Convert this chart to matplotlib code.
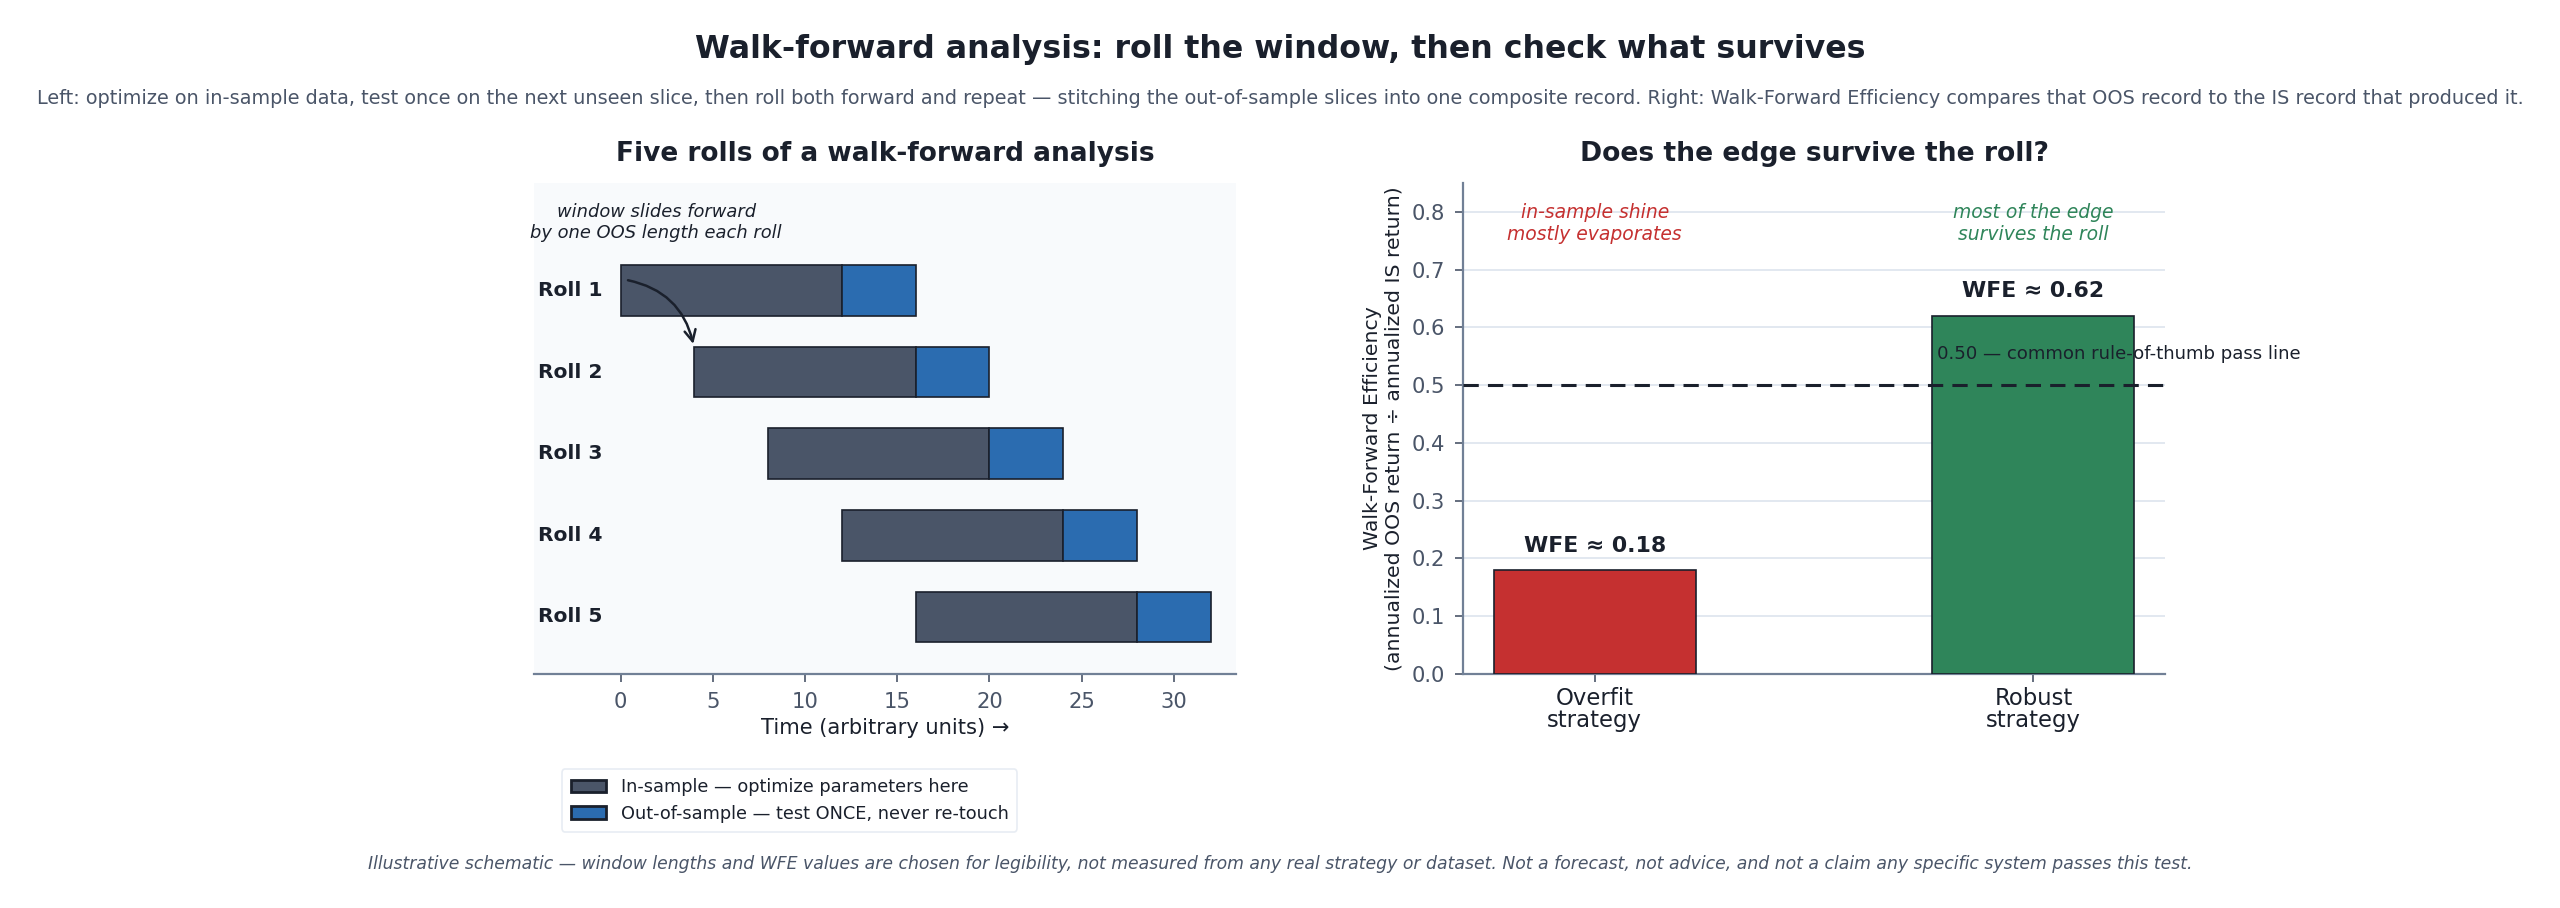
import matplotlib.pyplot as plt
from matplotlib.patches import Patch

# data
rolls = ["Roll 1", "Roll 2", "Roll 3", "Roll 4", "Roll 5"]
is_start = [0, 4, 8, 12, 16]
is_len = [12, 12, 12, 12, 12]
oos_len = [4, 4, 4, 4, 4]

strategies = ["Overfit\nstrategy", "Robust\nstrategy"]
wfe = [0.18, 0.62]
pass_line = 0.50

IS_COLOR = "#4a5568"
OOS_COLOR = "#2b6cb0"
EDGE = "#1a202c"
DARK = "#1a202c"
SLATE = "#4a5568"
RED = "#c53030"
GREEN = "#2f855a"

plt.rcParams["font.family"] = ["DejaVu Sans"]

fig = plt.figure(figsize=(12.8, 4.54), dpi=200)
ax1 = fig.add_axes([0.2086, 0.2577, 0.2744, 0.5408])
ax2 = fig.add_axes([0.5715, 0.2577, 0.2742, 0.5408])

fig.text(0.5, 0.946, "Walk-forward analysis: roll the window, then check what survives",
         ha="center", va="center", fontsize=11.4, fontweight="bold", color=DARK)
fig.text(0.5, 0.892,
         "Left: optimize on in-sample data, test once on the next unseen slice, then roll both forward and repeat \u2014 "
         "stitching the out-of-sample slices into one composite record. Right: Walk-Forward Efficiency compares that "
         "OOS record to the IS record that produced it.",
         ha="center", va="center", fontsize=6.93, color=SLATE)
fig.text(0.5, 0.0485,
         "Illustrative schematic \u2014 window lengths and WFE values are chosen for legibility, not measured from any "
         "real strategy or dataset. Not a forecast, not advice, and not a claim any specific system passes this test.",
         ha="center", va="center", fontsize=6.2, color=SLATE, style="italic")

# left panel: rolling windows
ypos = list(range(len(rolls)))
ax1.set_facecolor("#f8fafc")
ax1.barh(ypos, is_len, left=is_start, height=0.62, color=IS_COLOR,
         edgecolor=EDGE, linewidth=0.6, zorder=2)
oos_start = [s + l for s, l in zip(is_start, is_len)]
ax1.barh(ypos, oos_len, left=oos_start, height=0.62, color=OOS_COLOR,
         edgecolor=EDGE, linewidth=0.6, zorder=2)
for y, name in zip(ypos, rolls):
    ax1.text(-4.5, y, name, ha="left", va="center", fontsize=7.3,
             fontweight="bold", color=DARK)

ax1.set_xlim(-4.7, 33.4)
ax1.set_ylim(4.7, -1.32)
ax1.set_yticks([])
ax1.set_xticks([0, 5, 10, 15, 20, 25, 30])
ax1.tick_params(axis="x", labelsize=7.6, colors=SLATE, length=3, width=0.6)
for s in ["top", "right", "left"]:
    ax1.spines[s].set_visible(False)
ax1.spines["bottom"].set_color("#718096")
ax1.spines["bottom"].set_linewidth(0.8)
ax1.set_xlabel("Time (arbitrary units) \u2192", fontsize=7.55, color=DARK, labelpad=2)
ax1.set_title("Five rolls of a walk-forward analysis", fontsize=9.5,
              fontweight="bold", color=DARK, pad=8)

ax1.text(1.92, -0.84, "window slides forward\nby one OOS length each roll",
         ha="center", va="center", fontsize=6.45, style="italic", color=DARK)
ax1.annotate("", xy=(4.0, 0.72), xytext=(0.1, -0.14),
             arrowprops=dict(arrowstyle="->", color=DARK, lw=0.9,
                             connectionstyle="arc3,rad=-0.35"), zorder=4)

handles = [Patch(facecolor=IS_COLOR, edgecolor=EDGE, label="In-sample \u2014 optimize parameters here"),
           Patch(facecolor=OOS_COLOR, edgecolor=EDGE, label="Out-of-sample \u2014 test ONCE, never re-touch")]
leg = fig.legend(handles=handles, loc="upper left", bbox_to_anchor=(0.2195, 0.153),
                 borderaxespad=0, fontsize=6.4, frameon=True, handlelength=2.0, borderpad=0.5)
leg.get_frame().set_edgecolor("#e2e8f0")
leg.get_frame().set_linewidth(0.6)
for t in leg.get_texts():
    t.set_color(DARK)

# right panel: WFE bars
xpos = [0, 1]
ax2.bar(xpos, wfe, width=0.46, color=[RED, GREEN], edgecolor=EDGE,
        linewidth=0.6, zorder=3)
for x, v in zip(xpos, wfe):
    ax2.text(x, v + 0.025, f"WFE \u2248 {v:.2f}", ha="center", va="bottom",
             fontsize=7.95, fontweight="bold", color=DARK)
ax2.axhline(pass_line, color=DARK, linestyle=(0, (5, 3)), linewidth=1.1, zorder=4)
ax2.text(0.78, pass_line + 0.054, "0.50 \u2014 common rule-of-thumb pass line",
         ha="left", va="center", fontsize=6.55, color=DARK, clip_on=False)
ax2.text(0, 0.78, "in-sample shine\nmostly evaporates", ha="center", va="center",
         fontsize=6.75, style="italic", color=RED)
ax2.text(1, 0.78, "most of the edge\nsurvives the roll", ha="center", va="center",
         fontsize=6.75, style="italic", color=GREEN)

ax2.set_xlim(-0.3, 1.3)
ax2.set_ylim(0, 0.85)
ax2.set_xticks(xpos)
ax2.set_xticklabels(strategies, linespacing=0.97)
ax2.set_yticks([0.0, 0.1, 0.2, 0.3, 0.4, 0.5, 0.6, 0.7, 0.8])
ax2.tick_params(axis="y", labelsize=7.6, colors=SLATE, length=3, width=0.6)
ax2.tick_params(axis="x", labelsize=8.2, colors=SLATE, labelcolor=DARK,
                length=3, width=0.6, pad=1.5)
ax2.grid(axis="y", color="#e2e8f0", linewidth=0.7, zorder=0)
ax2.set_axisbelow(True)
for s in ["top", "right"]:
    ax2.spines[s].set_visible(False)
for s in ["left", "bottom"]:
    ax2.spines[s].set_color("#718096")
    ax2.spines[s].set_linewidth(0.8)
ax2.set_ylabel("Walk-Forward Efficiency\n(annualized OOS return \u00f7 annualized IS return)",
               fontsize=7.35, color=DARK, labelpad=2.8)
ax2.set_title("Does the edge survive the roll?", fontsize=9.6,
              fontweight="bold", color=DARK, pad=8)

fig.savefig("out.png", dpi=200)
